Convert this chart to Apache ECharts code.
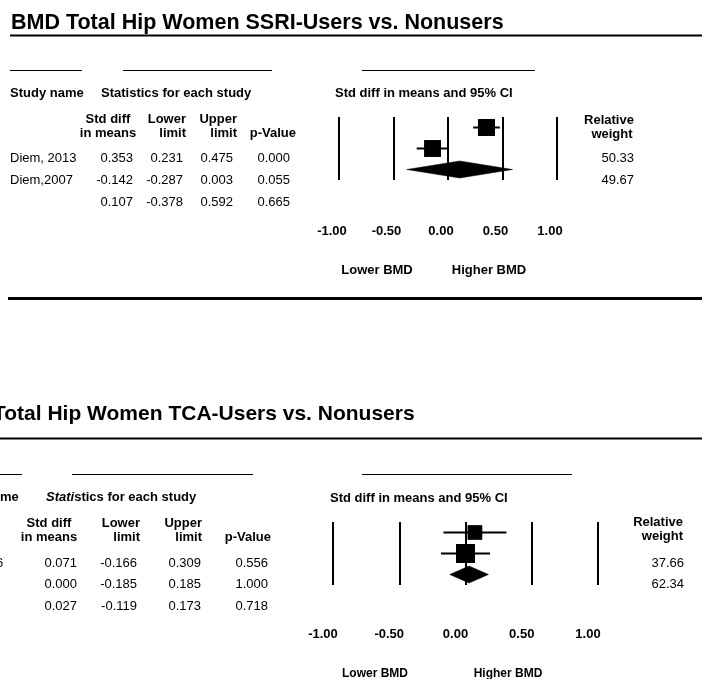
<!DOCTYPE html>
<html>
<head>
<meta charset="utf-8">
<script src="https://cdn.jsdelivr.net/npm/echarts@6/dist/echarts.min.js"></script>
<style>
html, body { margin: 0; padding: 0; background: #fff; }
#chart { width: 702px; height: 679px; }
</style>
</head>
<body>
<div id="chart"></div>
<script>
// top panel: SSRI users vs nonusers
var ssriStudies = ['Diem, 2013', 'Diem,2007', ''];
var ssriStd = [0.353, -0.142, 0.107];
var ssriLower = [0.231, -0.287, -0.378];
var ssriUpper = [0.475, 0.003, 0.592];
var ssriP = [0.000, 0.055, 0.665];
var ssriWeight = [50.33, 49.67];

// bottom panel: TCA users vs nonusers (left part cut off in the figure)
var tcaStudies = ['6', '', ''];
var tcaStd = [0.071, 0.000, 0.027];
var tcaLower = [-0.166, -0.185, -0.119];
var tcaUpper = [0.309, 0.185, 0.173];
var tcaP = [0.556, 1.000, 0.718];
var tcaWeight = [37.66, 62.34];

var tickValues = [-1, -0.5, 0, 0.5, 1];

var FONT = 'Liberation Sans, Arial, sans-serif';
var chart = echarts.init(document.getElementById('chart'));

function txt(x, y, s, opt) {
	opt = opt || {};
	return {
		type: 'text',
		x: x,
		y: y,
		silent: true,
		style: {
			text: s,
			fill: '#000',
			font: (opt.weight || 'normal') + ' ' + (opt.size || 13) + 'px ' + FONT,
			align: opt.align || 'left',
			verticalAlign: 'middle',
			rich: opt.rich,
		},
	};
}
function hline(x1, x2, y, w) {
	return {
		type: 'line',
		silent: true,
		shape: { x1: x1, y1: y, x2: x2, y2: y },
		style: { stroke: '#000', lineWidth: w || 1 },
	};
}

// builds table text for one panel
function tableTexts(p) {
	var g = [];
	for (var i = 0; i < 3; i++) {
		var y = p.rowY[i];
		if (p.names[i]) g.push(txt(p.nameX, y, p.names[i]));
		g.push(txt(p.cols[0], y, p.std[i].toFixed(3), { align: 'right' }));
		g.push(txt(p.cols[1], y, p.lower[i].toFixed(3), { align: 'right' }));
		g.push(txt(p.cols[2], y, p.upper[i].toFixed(3), { align: 'right' }));
		g.push(txt(p.cols[3], y, p.p[i].toFixed(3), { align: 'right' }));
	}
	for (var k = 0; k < p.weight.length; k++) {
		g.push(txt(p.weightX, p.weightY[k], p.weight[k].toFixed(2), { align: 'right' }));
	}
	return g;
}

var B = { weight: 'bold' };
var graphics = [];
// ---- top panel texts / rules
graphics.push(txt(11, 23, 'BMD Total Hip Women SSRI-Users vs. Nonusers', { weight: 'bold', size: 21.5 }));
graphics.push(hline(10, 702, 35.5, 2));
graphics.push(hline(10, 82, 70.5), hline(123, 272, 70.5), hline(362, 535, 70.5));
graphics.push(txt(10, 93, 'Study name', B));
graphics.push(txt(101, 93, 'Statistics for each study', B));
graphics.push(txt(335, 93, 'Std diff in means and 95% CI', B));
graphics.push(txt(108, 119, 'Std diff', { weight: 'bold', align: 'center' }));
graphics.push(txt(108, 133, 'in means', { weight: 'bold', align: 'center' }));
graphics.push(txt(186, 119, 'Lower', { weight: 'bold', align: 'right' }));
graphics.push(txt(186, 133, 'limit', { weight: 'bold', align: 'right' }));
graphics.push(txt(237, 119, 'Upper', { weight: 'bold', align: 'right' }));
graphics.push(txt(237, 133, 'limit', { weight: 'bold', align: 'right' }));
graphics.push(txt(296, 133, 'p-Value', { weight: 'bold', align: 'right' }));
graphics.push(txt(609, 120, 'Relative', { weight: 'bold', align: 'center' }));
graphics.push(txt(612, 134, 'weight', { weight: 'bold', align: 'center' }));
graphics = graphics.concat(tableTexts({
	names: ssriStudies, std: ssriStd, lower: ssriLower, upper: ssriUpper, p: ssriP, weight: ssriWeight,
	nameX: 10, cols: [133, 183, 233, 290], rowY: [158, 180, 202], weightX: 634, weightY: [158, 180],
}));
graphics.push(txt(377, 270, 'Lower BMD', B));
graphics[graphics.length - 1].style.align = 'center';
graphics.push(txt(489, 270, 'Higher BMD', { weight: 'bold', align: 'center' }));
graphics.push(hline(8, 702, 298.5, 3));

// ---- bottom panel texts / rules
graphics.push(txt(-7, 414, 'Total Hip Women TCA-Users vs. Nonusers', { weight: 'bold', size: 21 }));
graphics.push(hline(0, 702, 438.5, 2));
graphics.push(hline(0, 22, 474.5), hline(72, 253, 474.5), hline(362, 572, 474.5));
graphics.push(txt(0, 497, 'me', B));
graphics.push(txt(46, 497, '{it|Stati}stics for each study', {
	weight: 'bold',
	rich: { it: { fontStyle: 'italic', fontWeight: 'bold', fontSize: 13, fontFamily: FONT } },
}));
graphics.push(txt(330, 498, 'Std diff in means and 95% CI', B));
graphics.push(txt(49, 523, 'Std diff', { weight: 'bold', align: 'center' }));
graphics.push(txt(49, 537, 'in means', { weight: 'bold', align: 'center' }));
graphics.push(txt(140, 523, 'Lower', { weight: 'bold', align: 'right' }));
graphics.push(txt(140, 537, 'limit', { weight: 'bold', align: 'right' }));
graphics.push(txt(202, 523, 'Upper', { weight: 'bold', align: 'right' }));
graphics.push(txt(202, 537, 'limit', { weight: 'bold', align: 'right' }));
graphics.push(txt(271, 537, 'p-Value', { weight: 'bold', align: 'right' }));
graphics.push(txt(683, 522, 'Relative', { weight: 'bold', align: 'right' }));
graphics.push(txt(683, 536, 'weight', { weight: 'bold', align: 'right' }));
graphics = graphics.concat(tableTexts({
	names: tcaStudies, std: tcaStd, lower: tcaLower, upper: tcaUpper, p: tcaP, weight: tcaWeight,
	nameX: -4, cols: [77, 137, 201, 268], rowY: [563, 584, 606], weightX: 684, weightY: [563, 584],
}));
graphics.push(txt(375, 674, 'Lower BMD', { weight: 'bold', size: 12, align: 'center' }));
graphics.push(txt(508, 674, 'Higher BMD', { weight: 'bold', size: 12, align: 'center' }));

// forest data for custom series: [est, lo, hi, weight, row]
function forestData(std, lo, hi, w) {
	var d = [];
	for (var i = 0; i < std.length; i++) {
		d.push([std[i], lo[i], hi[i], w[i] == null ? -1 : w[i], i + 0.5]);
	}
	return d;
}

function renderForest(params, api) {
	var est = api.value(0), lo = api.value(1), hi = api.value(2), w = api.value(3), row = api.value(4);
	var c = api.coord([est, row]);
	var pl = api.coord([lo, row]);
	var ph = api.coord([hi, row]);
	if (w < 0) {
		// pooled estimate -> diamond
		var h = 8.5;
		return {
			type: 'polygon',
			shape: { points: [[pl[0], c[1]], [c[0], c[1] - h], [ph[0], c[1]], [c[0], c[1] + h]] },
			style: { fill: '#000', stroke: '#000', lineWidth: 0.5 },
		};
	}
	var s = 2.4 * Math.sqrt(w);
	return {
		type: 'group',
		children: [
			{ type: 'line', shape: { x1: pl[0], y1: c[1], x2: ph[0], y2: c[1] }, style: { stroke: '#000', lineWidth: 2 } },
			{ type: 'rect', shape: { x: c[0] - s / 2, y: c[1] - s / 2, width: s, height: s }, style: { fill: '#000' } },
		],
	};
}

function xAxisOf(grid, margin, pad) {
	return {
		type: 'value',
		gridIndex: grid,
		min: tickValues[0],
		max: tickValues[tickValues.length - 1],
		interval: 0.5,
		axisLine: { show: false },
		axisTick: { show: false },
		splitLine: { show: true, lineStyle: { color: '#000', width: 2 } },
		axisLabel: {
			margin: margin,
			color: '#000',
			fontFamily: FONT,
			fontWeight: 'bold',
			fontSize: 13,
			padding: [0, pad, 0, 0],
			formatter: function (v) { return v.toFixed(2); },
		},
	};
}
function yAxisOf(grid) {
	return { type: 'value', gridIndex: grid, min: 0, max: 3, inverse: true, show: false };
}

var option = {
	backgroundColor: '#fff',
	animation: false,
	grid: [
		{ left: 339, top: 117, width: 218, height: 63 },
		{ left: 333, top: 522, width: 265, height: 63 },
	],
	xAxis: [xAxisOf(0, 45, 14), xAxisOf(1, 43, 20)],
	yAxis: [yAxisOf(0), yAxisOf(1)],
	series: [
		{
			type: 'custom',
			xAxisIndex: 0,
			yAxisIndex: 0,
			renderItem: renderForest,
			data: forestData(ssriStd, ssriLower, ssriUpper, ssriWeight),
			z: 5,
		},
		{
			type: 'custom',
			xAxisIndex: 1,
			yAxisIndex: 1,
			renderItem: renderForest,
			data: forestData(tcaStd, tcaLower, tcaUpper, tcaWeight),
			z: 5,
		},
	],
	graphic: graphics,
};
chart.setOption(option);
</script>
</body>
</html>
